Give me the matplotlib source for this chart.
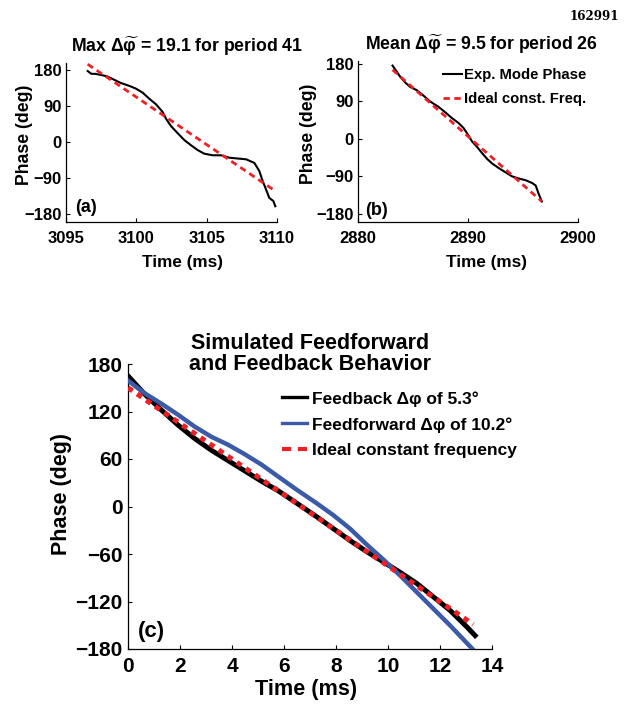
import matplotlib
matplotlib.use("Agg")
import matplotlib.pyplot as plt

plt.rcParams['font.family'] = ['Liberation Sans', 'DejaVu Sans']
plt.rcParams['font.weight'] = 'bold'
plt.rcParams['axes.labelweight'] = 'bold'
plt.rcParams['mathtext.fontset'] = 'custom'
plt.rcParams['mathtext.rm'] = 'Liberation Sans:bold'
plt.rcParams['mathtext.it'] = 'Liberation Sans:bold'
plt.rcParams['mathtext.bf'] = 'Liberation Sans:bold'

# panel (a): worst period 41
t_a = [3096.54, 3096.80, 3097.10, 3097.50, 3097.90, 3098.44, 3098.91, 3099.50, 3099.98,
       3100.45, 3100.92, 3101.40, 3101.87, 3102.11, 3102.46, 3102.94, 3103.41, 3103.89,
       3104.36, 3104.83, 3105.43, 3106.02, 3106.61, 3107.20, 3107.80, 3108.39, 3108.74,
       3108.98, 3109.22, 3109.45, 3109.74, 3109.88]
ph_a = [177, 170, 170, 167, 164, 155, 147, 140, 133,
        123, 108, 94, 75, 58, 40, 22, 5, -8,
        -20, -29, -33, -33, -39, -41, -43, -52, -72,
        -97, -118, -139, -147, -160]
ideal_t_a = [3096.54, 3109.88]
ideal_a = [194, -122]

# panel (b): mean period 26
t_b = [2883.14, 2883.51, 2883.81, 2884.27, 2884.73, 2885.34, 2885.95, 2886.55, 2887.32,
       2887.93, 2888.54, 2889.15, 2889.60, 2890.00, 2890.37, 2890.82, 2891.28, 2891.74,
       2892.20, 2892.80, 2893.41, 2894.02, 2894.63, 2895.24, 2895.85, 2896.16, 2896.40,
       2896.71]
ph_b = [176, 162, 150, 136, 125, 117, 104, 90, 77,
        64, 50, 38, 26, 10, -6, -19, -34, -48,
        -59, -70, -80, -90, -95, -99, -106, -112, -130,
        -150]
ideal_t_b = [2883.14, 2896.71]
ideal_b = [166, -150]

# panel (c): simulation
t_fb = [0, 0.64, 1.28, 1.92, 2.56, 3.21, 3.85, 4.49, 5.13, 5.77, 6.41, 7.26, 7.90,
        8.54, 9.18, 9.82, 10.46, 11.10, 11.74, 12.38, 13.03, 13.35]
fb = [165, 142, 122, 103, 86, 71, 58, 45, 32, 20, 6, -13, -28,
      -43, -57, -70, -83, -97, -114, -131, -152, -163]
t_ff = [0, 0.64, 1.28, 1.92, 2.56, 3.21, 3.85, 4.49, 5.13, 5.77, 6.41, 7.26, 7.90,
        8.54, 9.18, 9.82, 10.46, 11.10, 11.74, 12.38, 13.28]
ff = [159, 143, 130, 116, 101, 88, 78, 66, 53, 38, 23, 4, -11,
      -28, -48, -67, -87, -108, -129, -150, -181]
ideal_t_c = [0, 13.28]
ideal_c = [150, -149]

labels_c = ['Feedback Δφ of 5.3°', 'Feedforward Δφ of 10.2°', 'Ideal constant frequency']

red = '#ee1f25'
blue = '#3b5aa8'

W, H = 624, 710
fig = plt.figure(figsize=(W / 100, H / 100), dpi=100)


def ax_at(l, t, r, b):
    return fig.add_axes([l / W, 1 - b / H, (r - l) / W, (b - t) / H])


def style(ax, fs, pad_x, pad_y):
    ax.spines['top'].set_visible(False)
    ax.spines['right'].set_visible(False)
    for s in ['left', 'bottom']:
        ax.spines[s].set_linewidth(0.9)
    ax.tick_params(direction='in', length=3, width=0.8, labelsize=fs)
    ax.tick_params(axis='x', pad=pad_x)
    ax.tick_params(axis='y', pad=pad_y)


# (a)
ax1 = ax_at(66, 63, 277, 222.3)
ax1.plot(t_a, ph_a, color='k', lw=1.5)
ax1.plot(ideal_t_a, ideal_a, color=red, lw=2, dashes=(2.3, 1.6))
ax1.set_xlim(3095, 3110)
ax1.set_ylim(-200, 197)
ax1.set_xticks([3095, 3100, 3105, 3110])
ax1.set_yticks([-180, -90, 0, 90, 180])
ax1.set_yticklabels(['−180', '−90', '0', '90', '180'])
style(ax1, 12, 6, 3)
ax1.set_xlabel('Time (ms)', fontsize=12.3)
ax1.set_ylabel('Phase (deg)', fontsize=12.7)
ax1.xaxis.set_label_coords(0.55, -0.205)
ax1.yaxis.set_label_coords(-0.156, 0.548)
ax1.text(0.043, 0.095, '(a)', transform=ax1.transAxes, fontsize=13, va='center', ha='left')
fig.text(187 / W, 1 - 52.5 / H, r'Max $\Delta\widetilde{\varphi}$ = 19.1 for period 41',
         fontsize=12.7, ha='center', va='baseline')

# (b)
ax2 = ax_at(358, 61, 578, 222.3)
ax2.plot(t_b, ph_b, color='k', lw=1.5, label='Exp. Mode Phase')
ax2.plot(ideal_t_b, ideal_b, color=red, lw=2, dashes=(2.3, 1.6), label='Ideal const. Freq.')
ax2.set_xlim(2880, 2900)
ax2.set_ylim(-200, 187)
ax2.set_xticks([2880, 2890, 2900])
ax2.set_yticks([-180, -90, 0, 90, 180])
ax2.set_yticklabels(['−180', '−90', '0', '90', '180'])
style(ax2, 12, 6, 3)
ax2.set_xlabel('Time (ms)', fontsize=12.3)
ax2.set_ylabel('Phase (deg)', fontsize=12.7)
ax2.xaxis.set_label_coords(0.582, -0.205)
ax2.yaxis.set_label_coords(-0.186, 0.548)
ax2.text(0.032, 0.075, '(b)', transform=ax2.transAxes, fontsize=13, va='center', ha='left')
fig.text(481 / W, 1 - 50.5 / H, r'Mean $\Delta\widetilde{\varphi}$ = 9.5 for period 26',
         fontsize=12.7, ha='center', va='baseline')
leg2 = ax2.legend(loc='upper left', bbox_to_anchor=(443 / W, 1 - 68 / H),
                  bbox_transform=fig.transFigure, frameon=False, fontsize=10.7,
                  handlelength=1.3, handletextpad=0.1, labelspacing=0.7,
                  borderpad=0, borderaxespad=0)

fig.text(594 / W, 1 - 17 / H, '162991', family='DejaVu Serif', fontsize=8.6,
         weight='bold', ha='center', va='center')

# (c)
ax3 = ax_at(128, 364, 492, 649)
ax3.plot(t_fb, fb, color='k', lw=3.6, label=labels_c[0], zorder=2)
ax3.plot(t_ff, ff, color=blue, lw=3.2, label=labels_c[1], zorder=3)
ax3.plot(ideal_t_c, ideal_c, color=red, lw=3.6, dashes=(1.1, 1.1), label=labels_c[2], zorder=4)
ax3.set_xlim(0, 14)
ax3.set_ylim(-180, 180)
ax3.set_xticks(range(0, 15, 2))
ax3.set_yticks(range(-180, 181, 60))
ax3.set_yticklabels(['−180', '−120', '−60', '0', '60', '120', '180'])
style(ax3, 15, 6, 4)
ax3.set_xlabel('Time (ms)', fontsize=15.6)
ax3.set_ylabel('Phase (deg)', fontsize=15.5)
ax3.xaxis.set_label_coords(0.49, -0.106)
ax3.yaxis.set_label_coords(-0.154, 0.544)
ax3.text(0.027, 0.063, '(c)', transform=ax3.transAxes, fontsize=16, va='center', ha='left')
ax3.text(0.5, 1 + 10 / 285, 'Simulated Feedforward\nand Feedback Behavior',
         transform=ax3.transAxes, fontsize=15.5, ha='center', va='center', linespacing=1.0)
leg3 = ax3.legend(loc='upper left', bbox_to_anchor=(282 / W, 1 - 391 / H),
                  bbox_transform=fig.transFigure, frameon=False, fontsize=12.5,
                  handlelength=1.45, handletextpad=0.3, labelspacing=0.6,
                  borderpad=0, borderaxespad=0)
leg_lines = leg3.get_lines()
leg_lines[0].set_linewidth(2.4)
leg_lines[1].set_linewidth(2.4)
leg_lines[2].set_linewidth(3)
leg_lines[2].set_dashes((2.2, 1.6))

fig.savefig('out.png', dpi=100)
